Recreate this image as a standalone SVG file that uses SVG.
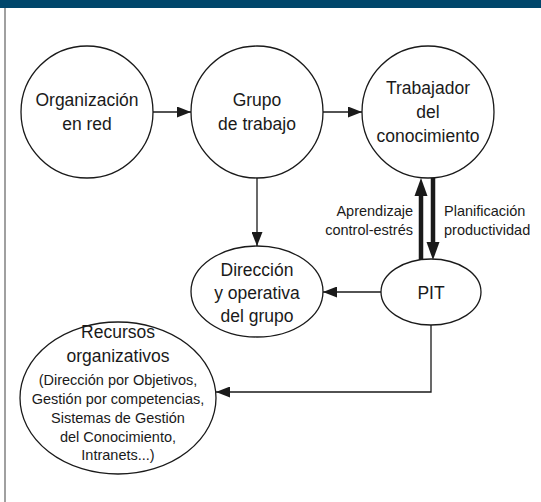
<svg xmlns="http://www.w3.org/2000/svg" width="541" height="502" viewBox="0 0 541 502">
<style>
.node{fill:#fff;stroke:#1a1a1a;stroke-width:1.3}
.t{font-family:"Liberation Sans",Arial,sans-serif;font-size:17.5px;fill:#1a1a1a;text-anchor:middle}
.s{font-family:"Liberation Sans",Arial,sans-serif;font-size:14.5px;fill:#1a1a1a}
.c{fill:none;stroke:#1a1a1a;stroke-width:1.3}
.h{fill:#1a1a1a}
</style>
<defs>
<marker id="ah" markerUnits="userSpaceOnUse" markerWidth="14" markerHeight="11" refX="14" refY="5.5" orient="auto">
<path d="M0,0 L14,5.5 L0,11 z" fill="#1a1a1a"/>
</marker>
</defs>
<rect x="0" y="0" width="541" height="502" fill="#fff"/>
<rect x="0" y="0" width="541" height="8" fill="#00466b"/>
<line x1="5" y1="8" x2="5" y2="502" stroke="#808080" stroke-width="1.5"/>

<g id="connectors">
<line class="c" x1="153" y1="112" x2="191" y2="112" marker-end="url(#ah)"/>
<line class="c" x1="323" y1="112" x2="362" y2="112" marker-end="url(#ah)"/>
<line class="c" x1="257" y1="178" x2="257" y2="246" marker-end="url(#ah)"/>
<line class="c" x1="381" y1="292" x2="323" y2="292" marker-end="url(#ah)"/>
<polyline class="c" points="431,325 431,392 216,392" marker-end="url(#ah)"/>
<rect class="h" x="418.75" y="194" width="4.5" height="66"/>
<polygon class="h" points="421,178 414.5,196 427.5,196"/>
<rect class="h" x="430.75" y="178" width="4.5" height="66"/>
<polygon class="h" points="433,260 426.5,242 439.5,242"/>
<text class="s" x="413" y="216" text-anchor="end">Aprendizaje</text>
<text class="s" x="413" y="235" text-anchor="end">control-estrés</text>
<text class="s" x="444" y="216">Planificación</text>
<text class="s" x="444" y="235">productividad</text>
</g>

<g id="organizacion">
<circle class="node" cx="87" cy="112" r="66"/>
<text class="t" x="87" y="106">Organización</text>
<text class="t" x="87" y="130">en red</text>
</g>
<g id="grupo">
<circle class="node" cx="257" cy="112" r="66"/>
<text class="t" x="257" y="106">Grupo</text>
<text class="t" x="257" y="130">de trabajo</text>
</g>
<g id="trabajador">
<circle class="node" cx="428" cy="112" r="66"/>
<text class="t" x="428" y="94">Trabajador</text>
<text class="t" x="428" y="118">del</text>
<text class="t" x="428" y="142">conocimiento</text>
</g>
<g id="direccion">
<ellipse class="node" cx="257" cy="291.5" rx="66" ry="45.5"/>
<text class="t" x="257" y="276">Dirección</text>
<text class="t" x="257" y="299">y operativa</text>
<text class="t" x="257" y="322">del grupo</text>
</g>
<g id="pit">
<ellipse class="node" cx="431" cy="292" rx="50" ry="33"/>
<text class="t" x="431" y="299">PIT</text>
</g>
<g id="recursos">
<ellipse class="node" cx="118" cy="398" rx="98" ry="76"/>
<text class="t" x="118" y="338">Recursos</text>
<text class="t" x="118" y="362">organizativos</text>
<text class="s" x="118" y="385" text-anchor="middle">(Dirección por Objetivos,</text>
<text class="s" x="118" y="404" text-anchor="middle">Gestión por competencias,</text>
<text class="s" x="118" y="423" text-anchor="middle">Sistemas de Gestión</text>
<text class="s" x="118" y="442" text-anchor="middle">del Conocimiento,</text>
<text class="s" x="118" y="460" text-anchor="middle">Intranets...)</text>
</g>
</svg>
